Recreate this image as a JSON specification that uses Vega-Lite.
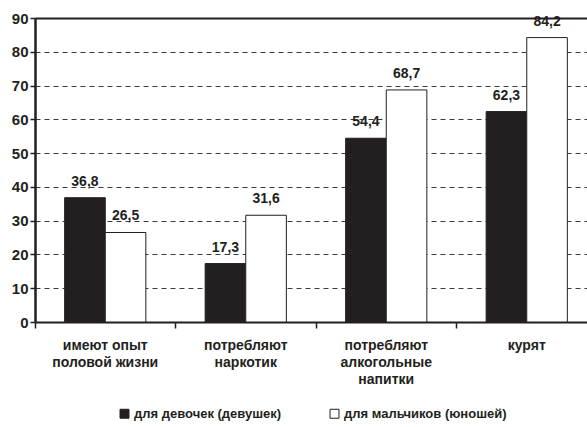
{
  "$schema": "https://vega.github.io/schema/vega-lite/v6.json",
  "width": 548,
  "height": 304,
  "autosize": {"type": "none"},
  "padding": {"left": 35, "top": 18, "right": 4, "bottom": 105},
  "background": "#ffffff",
  "config": {
    "view": {"stroke": null},
    "font": "Liberation Sans",
    "axisY": {"labelFontWeight": "bold", "labelFontSize": 15},
    "locale": {"number": {"decimal": ",", "thousands": " ", "grouping": [3], "currency": ["", ""]}}
  },
  "data": {
    "values": [
      {"cat": "имеют  опыт|половой  жизни", "group": "для девочек (девушек)", "value": 36.8},
      {"cat": "имеют  опыт|половой  жизни", "group": "для мальчиков (юношей)", "value": 26.5},
      {"cat": "потребляют|наркотик", "group": "для девочек (девушек)", "value": 17.3},
      {"cat": "потребляют|наркотик", "group": "для мальчиков (юношей)", "value": 31.6},
      {"cat": "потребляют|алкогольные|напитки", "group": "для девочек (девушек)", "value": 54.4},
      {"cat": "потребляют|алкогольные|напитки", "group": "для мальчиков (юношей)", "value": 68.7},
      {"cat": "курят", "group": "для девочек (девушек)", "value": 62.3},
      {"cat": "курят", "group": "для мальчиков (юношей)", "value": 84.2}
    ]
  },
  "encoding": {
    "x": {
      "field": "cat", "type": "nominal", "sort": null,
      "scale": {"range": [0, 562], "paddingInner": 0, "paddingOuter": 0},
      "axis": {
        "title": null, "bandPosition": 0, "labelAngle": 0,
        "labelExpr": "split(datum.label, '|')",
        "labelFontSize": 14, "labelFontWeight": "bold", "labelColor": "#231f20",
        "labelLineHeight": 17, "labelBaseline": "top", "labelPadding": 10,
        "labelOverlap": false, "labelBound": false,
        "domainColor": "#231f20", "domainWidth": 2,
        "tickColor": "#231f20", "tickSize": 6, "tickWidth": 1.5, "grid": false
      }
    },
    "xOffset": {"field": "group", "sort": null, "scale": {"paddingOuter": 0.73, "paddingInner": 0}},
    "y": {
      "field": "value", "type": "quantitative",
      "scale": {"domain": [0, 90], "nice": false},
      "axis": {
        "title": null, "values": [0, 10, 20, 30, 40, 50, 60, 70, 80, 90],
        "labelOverlap": false, "labelFlush": false,
        "grid": true,
        "gridDash": {"condition": {"test": "datum.value === 90", "value": []}, "value": [5, 4]},
        "gridWidth": {"condition": {"test": "datum.value === 90", "value": 2}, "value": 1},
        "gridColor": {"condition": {"test": "datum.value === 90", "value": "#231f20"}, "value": "#3a3a3a"},
        "domainColor": "#231f20", "domainWidth": 2.5,
        "tickColor": "#231f20", "tickSize": 5, "tickWidth": 1.5,
        "labelFontSize": 15, "labelFontWeight": "bold", "labelColor": "#231f20", "labelPadding": 2
      }
    }
  },
  "layer": [
    {
      "mark": {"type": "bar", "stroke": "#231f20", "strokeWidth": 1},
      "encoding": {
        "color": {
          "field": "group", "type": "nominal", "sort": null,
          "scale": {"range": ["#231f20", "#ffffff"]},
          "legend": {
            "title": null, "orient": "none", "legendX": 83, "legendY": 389,
            "direction": "horizontal", "symbolType": "square", "symbolSize": 80,
            "symbolStrokeColor": "#231f20", "symbolStrokeWidth": 1,
            "labelFontSize": 13, "labelFontWeight": "bold", "labelColor": "#231f20",
            "labelLimit": 400, "columnPadding": 46, "labelOffset": 3
          }
        }
      }
    },
    {
      "mark": {"type": "text", "baseline": "bottom", "dy": -9, "fontSize": 14, "fontWeight": "bold", "color": "#231f20"},
      "encoding": {
        "text": {"field": "value", "type": "quantitative", "format": ".1f"}
      }
    }
  ]
}
